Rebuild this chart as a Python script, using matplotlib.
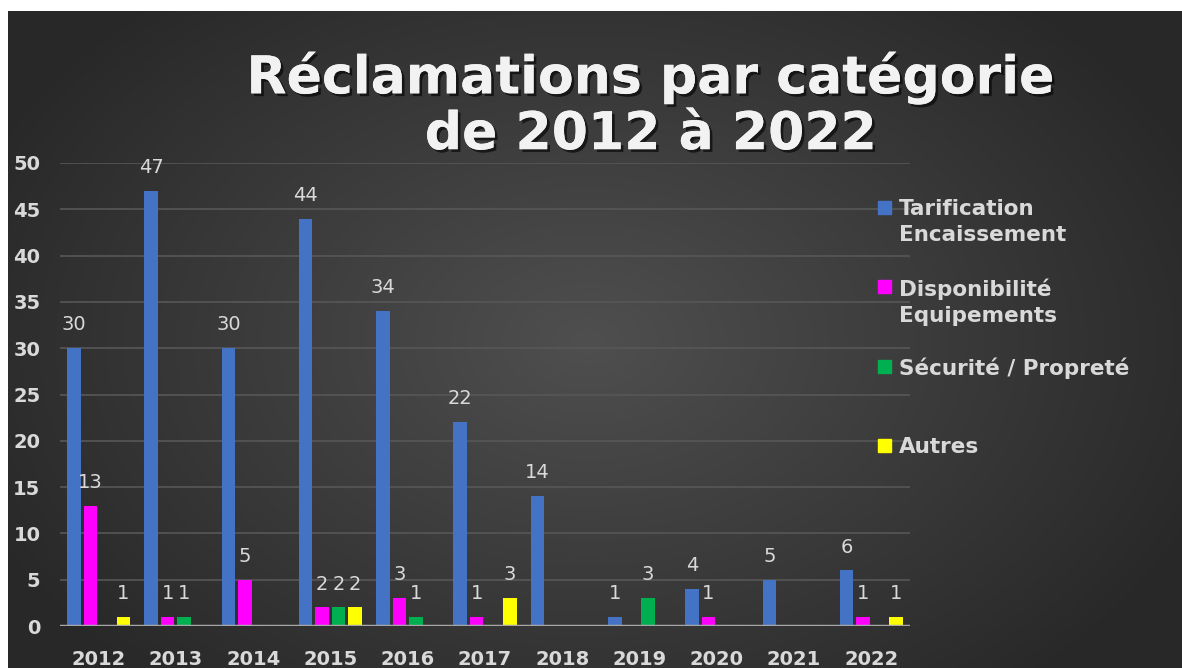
import numpy as np
import matplotlib.pyplot as plt
import matplotlib.patheffects as pe
from matplotlib.patches import Rectangle

years = ['2012', '2013', '2014', '2015', '2016', '2017', '2018', '2019', '2020', '2021', '2022']
tarification = [30, 47, 30, 44, 34, 22, 14, 1, 4, 5, 6]
disponibilite = [13, 1, 5, 2, 3, 1, 0, 0, 1, 0, 1]
securite = [0, 1, 0, 2, 1, 0, 0, 3, 0, 0, 0]
autres = [1, 0, 0, 2, 0, 3, 0, 0, 0, 0, 1]

series = [tarification, disponibilite, securite, autres]
labels = ['Tarification\nEncaissement', 'Disponibilité\nEquipements', 'Sécurité / Propreté', 'Autres']
colors = ['#4472C4', '#FF00FF', '#00B050', '#FFFF00']

W, H = 1182, 668
fig = plt.figure(figsize=(W / 100, H / 100), dpi=100, facecolor='white')

# dark radial background
bg = fig.add_axes([8 / W, 0, 1 - 8 / W, 1 - 11 / H], zorder=-10)
yy, xx = np.mgrid[0:657, 0:1174]
d = np.sqrt(((xx - 580) / 700.0) ** 2 + ((yy - 330) / 480.0) ** 2)
shade = np.clip(0.31 - 0.16 * d, 0.16, 0.32)
bg.imshow(np.dstack([shade, shade, shade]), aspect='auto', interpolation='bilinear')
bg.axis('off')

ax = fig.add_axes([60 / W, 42 / H, 850 / W, (626 - 163) / H])
ax.set_facecolor('none')
x = np.arange(len(years))
slot = 0.214
width = 0.175
for i, (vals, c) in enumerate(zip(series, colors)):
    pos = x + (i - 1.5) * slot
    ax.bar(pos, vals, width, color=c, zorder=3)
    for px, v in zip(pos, vals):
        if v > 0:
            ax.annotate(str(v), (px, v), xytext=(0, 10), textcoords='offset points',
                        ha='center', va='bottom', color='#d9d9d9', fontsize=14,
                        annotation_clip=False)

ax.set_xlim(-0.5, len(years) - 0.5)
ax.set_ylim(0, 50)
ax.set_yticks(range(0, 51, 5))
ax.set_xticks(x)
ax.set_xticklabels(years)
for s in ax.spines.values():
    s.set_visible(False)
ax.grid(axis='y', color='#575757', lw=1.2, zorder=0)
ax.axhline(0, color='#a6a6a6', lw=2.5, zorder=4)
ax.tick_params(length=0, colors='#d9d9d9', labelsize=14)
ax.tick_params(axis='y', pad=14)
ax.tick_params(axis='x', pad=17)
for t in ax.get_xticklabels() + ax.get_yticklabels():
    t.set_fontweight('bold')

shadow = [pe.withSimplePatchShadow(offset=(2, -2), shadow_rgbFace='black', alpha=0.6), pe.Normal()]
fig.text(651 / W, 1 - 106 / H, 'Réclamations par catégorie\nde 2012 à 2022', ha='center', va='center',
         fontsize=37.5, fontweight='bold', color='#f2f2f2', linespacing=1.15, path_effects=shadow)

# legend
leg_y = [208, 287, 367, 446]
for y0, lab, c in zip(leg_y, labels, colors):
    fig.patches.append(Rectangle((878 / W, 1 - (y0 + 6) / H), 13 / W, 13 / H,
                                 transform=fig.transFigure, color=c))
    fig.text(899 / W, 1 - (y0 - 9) / H, lab, ha='left', va='top', fontsize=15.5,
             fontweight='bold', color='#d9d9d9', linespacing=1.38)

fig.savefig('out.png', dpi=100, facecolor='white')
